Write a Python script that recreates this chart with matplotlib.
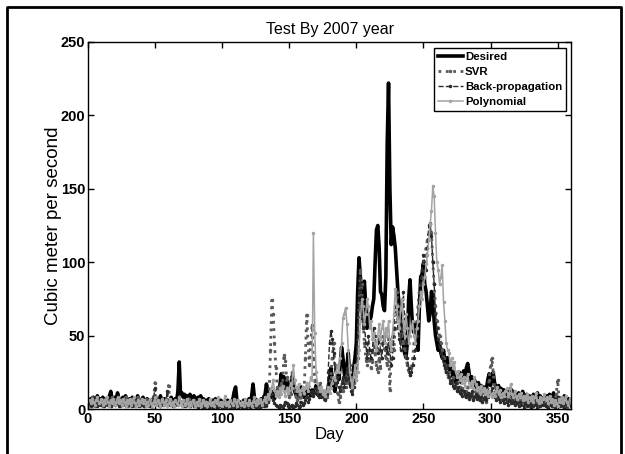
"""Redraw the 2007 test-year flow comparison chart."""

from __future__ import annotations

import matplotlib

matplotlib.use("Agg")

import matplotlib.pyplot as plt
import numpy as np
from matplotlib.lines import Line2D


# daily flow values, days 1..360, ten values per row
DESIRED = [
    5, 7, 4, 8, 6, 3, 9, 5, 7, 4,
    8, 6, 3, 7, 5, 9, 12, 6, 4, 8,
    5, 11, 7, 3, 6, 8, 4, 9, 5, 3,
    7, 5, 8, 4, 6, 3, 9, 5, 2, 6,
    8, 4, 3, 7, 5, 2, 6, 4, 8, 5,
    3, 6, 4, 9, 5, 3, 7, 4, 6, 5,
    3, 8, 5, 4, 7, 5, 12, 32, 9, 11,
    8, 10, 7, 9, 6, 10, 8, 5, 9, 7,
    4, 8, 6, 9, 5, 7, 3, 6, 4, 7,
    5, 3, 6, 4, 7, 2, 5, 3, 6, 4,
    2, 5, 3, 6, 4, 2, 5, 7, 12, 15,
    6, 3, 5, 4, 2, 6, 3, 5, 4, 7,
    3, 9, 17, 8, 4, 6, 5, 3, 7, 4,
    8, 10, 17, 12, 6, 9, 8, 12, 7, 10,
    13, 9, 16, 24, 18, 22, 14, 20, 16, 12,
    15, 22, 18, 12, 10, 14, 9, 12, 15, 11,
    8, 12, 10, 14, 11, 9, 13, 10, 12, 16,
    11, 9, 13, 8, 10, 12, 7, 9, 14, 20,
    28, 22, 15, 12, 18, 24, 20, 30, 42, 35,
    25, 18, 30, 38, 22, 15, 20, 28, 35, 45,
    80, 103, 90, 60, 75, 87, 70, 55, 65, 60,
    63, 70, 75, 100, 122, 125, 110, 80, 78, 70,
    67, 90, 180, 222, 150, 112, 124, 118, 110, 95,
    80, 70, 60, 50, 45, 38, 35, 45, 75, 88,
    70, 55, 52, 58, 55, 40, 70, 90, 92, 99,
    85, 80, 70, 60, 65, 80, 75, 60, 50, 45,
    40, 45, 38, 35, 40, 32, 28, 35, 30, 25,
    28, 22, 25, 18, 22, 20, 25, 18, 22, 26,
    20, 28, 31, 25, 18, 22, 15, 20, 17, 14,
    18, 12, 16, 13, 15, 11, 14, 20, 24, 16,
    22, 25, 18, 15, 12, 16, 10, 14, 11, 13,
    9, 12, 8, 11, 14, 9, 12, 7, 10, 8,
    11, 7, 9, 12, 6, 8, 10, 5, 9, 2,
    6, 10, 4, 8, 11, 5, 9, 7, 3, 8,
    6, 9, 5, 10, 4, 7, 11, 6, 3, 8,
    5, 7, 4, 6, 9, 3, 5, 7, 4, 6,
]

SVR = [
    3, 6, 8, 4, 2, 7, 5, 3, 6, 4,
    2, 5, 7, 3, 6, 4, 2, 8, 5, 3,
    6, 4, 7, 2, 5, 3, 6, 8, 4, 2,
    5, 7, 3, 6, 2, 4, 8, 5, 3, 6,
    4, 2, 7, 5, 3, 6, 2, 4, 9, 18,
    7, 3, 5, 2, 6, 4, 3, 7, 5, 16,
    6, 3, 5, 2, 4, 6, 3, 8, 5, 4,
    2, 6, 4, 3, 7, 2, 5, 3, 6, 4,
    2, 5, 3, 6, 2, 4, 1, 5, 3, 2,
    4, 1, 3, 5, 2, 4, 1, 3, 2, 5,
    3, 1, 4, 2, 5, 3, 1, 4, 2, 6,
    3, 1, 4, 2, 3, 5, 1, 3, 2, 4,
    1, 3, 5, 2, 4, 1, 3, 6, 2, 4,
    3, 5, 2, 8, 10, 40, 74, 65, 45, 28,
    15, 10, 12, 18, 15, 37, 33, 22, 12, 8,
    10, 25, 18, 12, 8, 6, 10, 5, 8, 12,
    10, 35, 64, 45, 30, 45, 57, 35, 20, 12,
    10, 14, 18, 12, 9, 7, 10, 8, 12, 15,
    22, 35, 45, 30, 18, 10, 5, 8, 15, 12,
    20, 15, 25, 18, 30, 22, 12, 18, 25, 20,
    35, 70, 95, 85, 60, 45, 35, 30, 40, 35,
    28, 32, 45, 38, 30, 25, 35, 28, 45, 50,
    40, 35, 30, 48, 13, 35, 50, 40, 55, 80,
    70, 60, 50, 55, 45, 40, 35, 30, 25, 23,
    28, 35, 45, 50, 60, 70, 80, 85, 90, 100,
    105, 110, 115, 120, 127, 120, 100, 85, 70, 60,
    55, 50, 45, 40, 35, 30, 25, 22, 25, 20,
    18, 22, 16, 14, 18, 12, 15, 10, 14, 12,
    9, 12, 15, 10, 8, 11, 7, 9, 12, 8,
    10, 6, 8, 11, 7, 9, 5, 12, 20, 30,
    35, 25, 15, 10, 8, 12, 7, 9, 6, 10,
    8, 5, 7, 10, 6, 8, 4, 7, 9, 5,
    7, 4, 8, 5, 3, 6, 8, 4, 2, 6,
    5, 3, 7, 4, 6, 2, 5, 3, 7, 4,
    2, 6, 4, 3, 5, 2, 4, 6, 10, 20,
    8, 4, 2, 6, 3, 5, 1, 4, 6, 3,
]

BACKPROP = [
    4, 2, 6, 3, 5, 7, 2, 4, 6, 3,
    5, 2, 4, 7, 3, 5, 2, 6, 4, 3,
    7, 4, 2, 5, 3, 6, 4, 2, 5, 7,
    3, 5, 2, 4, 6, 3, 5, 2, 4, 3,
    6, 2, 4, 3, 5, 2, 4, 6, 8, 14,
    5, 3, 6, 2, 4, 3, 5, 4, 12, 6,
    3, 5, 2, 4, 3, 6, 4, 9, 5, 3,
    4, 2, 5, 3, 4, 2, 5, 3, 2, 4,
    3, 1, 4, 2, 3, 1, 4, 2, 3, 1,
    2, 4, 1, 3, 2, 1, 3, 2, 4, 1,
    2, 3, 1, 2, 4, 1, 3, 2, 1, 3,
    2, 1, 3, 2, 1, 4, 2, 1, 3, 2,
    1, 3, 2, 4, 1, 2, 3, 1, 2, 3,
    2, 4, 3, 5, 8, 12, 10, 6, 4, 3,
    2, 1, 3, 2, 1, 3, 5, 4, 2, 1,
    2, 3, 1, 2, 4, 3, 1, 2, 5, 3,
    4, 6, 8, 5, 7, 10, 12, 9, 11, 14,
    10, 8, 12, 9, 11, 8, 6, 10, 25, 45,
    53, 48, 38, 28, 18, 22, 15, 12, 18, 22,
    15, 20, 28, 24, 18, 12, 10, 15, 22, 30,
    50, 80, 90, 75, 55, 60, 45, 35, 50, 40,
    35, 40, 55, 50, 42, 38, 48, 40, 35, 45,
    50, 42, 38, 45, 40, 30, 35, 55, 70, 65,
    55, 48, 40, 60, 80, 60, 45, 35, 28, 23,
    25, 30, 35, 40, 50, 60, 75, 85, 95, 105,
    100, 95, 110, 125, 126, 118, 100, 85, 65, 55,
    48, 42, 38, 35, 30, 28, 25, 30, 22, 18,
    20, 16, 14, 18, 12, 15, 11, 13, 9, 12,
    10, 8, 11, 7, 9, 12, 6, 8, 10, 7,
    9, 6, 8, 5, 7, 9, 6, 8, 10, 12,
    14, 10, 8, 6, 9, 7, 5, 8, 6, 4,
    7, 5, 3, 6, 4, 8, 5, 3, 6, 4,
    2, 5, 3, 6, 1, 4, 2, 5, 3, 1,
    4, 2, 6, 3, 1, 5, 2, 4, 3, 6,
    2, 4, 1, 5, 3, 2, 4, 1, 3, 8,
    4, 2, 5, 3, 1, 4, 2, 5, 3, 2,
]

POLYNOMIAL = [
    6, 4, 7, 5, 3, 6, 8, 4, 5, 7,
    3, 6, 4, 8, 5, 2, 6, 4, 7, 3,
    5, 8, 4, 6, 3, 7, 5, 2, 6, 4,
    7, 3, 5, 8, 4, 2, 6, 3, 5, 7,
    4, 6, 2, 5, 3, 7, 4, 1, 5, 8,
    3, 6, 4, 2, 7, 5, 3, 6, 2, 4,
    7, 3, 5, 2, 6, 4, 3, 8, 5, 2,
    6, 3, 4, 7, 2, 5, 3, 6, 4, 2,
    5, 3, 7, 2, 4, 6, 3, 5, 2, 4,
    7, 3, 5, 2, 6, 4, 8, 3, 5, 2,
    4, 9, 3, 5, 2, 6, 4, 3, 7, 5,
    2, 6, 4, 3, 5, 2, 7, 4, 3, 6,
    4, 2, 5, 8, 3, 6, 4, 7, 5, 3,
    6, 8, 5, 10, 7, 12, 15, 20, 13, 9,
    12, 8, 14, 10, 16, 12, 9, 14, 11, 13,
    18, 14, 30, 20, 15, 12, 17, 10, 13, 15,
    11, 14, 18, 12, 16, 22, 20, 120, 52, 25,
    18, 14, 12, 15, 10, 13, 9, 12, 15, 11,
    14, 18, 22, 20, 25, 30, 25, 35, 45, 62,
    65, 69, 58, 40, 25, 20, 15, 22, 30, 20,
    25, 40, 60, 75, 70, 58, 65, 75, 70, 55,
    60, 48, 52, 45, 40, 50, 58, 48, 55, 60,
    45, 55, 50, 60, 45, 40, 52, 65, 82, 70,
    60, 55, 68, 75, 60, 50, 65, 55, 45, 50,
    55, 60, 50, 45, 55, 60, 70, 80, 75, 85,
    90, 99, 105, 115, 126, 135, 152, 145, 120, 100,
    95, 85, 90, 98, 73, 60, 45, 40, 38, 30,
    35, 28, 32, 25, 22, 26, 20, 24, 18, 22,
    16, 20, 24, 18, 15, 19, 14, 22, 17, 13,
    15, 11, 16, 12, 14, 10, 13, 9, 12, 10,
    8, 11, 9, 12, 15, 10, 13, 8, 11, 9,
    12, 14, 9, 11, 17, 10, 8, 12, 9, 7,
    10, 8, 11, 6, 9, 7, 10, 5, 8, 6,
    9, 5, 8, 11, 6, 4, 8, 5, 7, 10,
    6, 8, 4, 9, 5, 7, 3, 6, 4, 2,
    7, 5, 8, 4, 6, 9, 5, 3, 7, 5,
]

SERIES_LABELS = ["Desired", "SVR", "Back-propagation", "Polynomial"]
X_TICKS = [0, 50, 100, 150, 200, 250, 300, 350]
Y_TICKS = [0, 50, 100, 150, 200, 250]

TICK_FONT = ["Liberation Sans Narrow", "Liberation Sans", "DejaVu Sans"]
TEXT_FONT = ["Liberation Sans", "DejaVu Sans"]


def draw_series(ax) -> None:
    styles = [
        dict(color="black", linewidth=2.6, linestyle="-"),
        dict(color="#5a5a5a", linewidth=2.0, linestyle=":", marker=".", markersize=3),
        dict(color="#2a2a2a", linewidth=1.0, linestyle="--", marker=".", markersize=3),
        dict(color="#a3a3a3", linewidth=1.1, linestyle="-", marker=".", markersize=3),
    ]
    for values, label, style in zip(
        [DESIRED, SVR, BACKPROP, POLYNOMIAL], SERIES_LABELS, styles
    ):
        days = np.arange(1, len(values) + 1)
        ax.plot(days, values, label=label, **style)


def main() -> None:
    fig = plt.figure(figsize=(6.25, 4.54), dpi=100)
    ax = fig.add_axes([0.1408, 0.0991, 0.7728, 0.8085])

    draw_series(ax)

    ax.set_xlim(0, 360)
    ax.set_ylim(0, 250)
    ax.set_xticks(X_TICKS)
    ax.set_yticks(Y_TICKS)
    ax.tick_params(direction="in", top=True, right=True, length=4, width=1, pad=2)
    for label in ax.get_xticklabels() + ax.get_yticklabels():
        label.set_family(TICK_FONT)
        label.set_fontweight("bold")
        label.set_fontsize(10.5)
    for spine in ax.spines.values():
        spine.set_linewidth(1.0)

    ax.set_title("Test By 2007 year", family=TEXT_FONT, fontsize=11.5, pad=6)
    ax.set_xlabel("Day", family=TEXT_FONT, fontsize=12, labelpad=1)
    ax.set_ylabel("Cubic meter per second", family=TEXT_FONT, fontsize=13.5, labelpad=-1)

    legend = ax.legend(
        loc="upper right",
        bbox_to_anchor=(0.99, 0.983),
        fancybox=False,
        framealpha=1,
        edgecolor="black",
        borderpad=0.35,
        labelspacing=0.42,
        handlelength=2.2,
        handletextpad=0.2,
        borderaxespad=0,
        prop={"family": TICK_FONT, "weight": "bold", "size": 8.2},
    )
    legend.get_frame().set_linewidth(1.0)

    # outer frame round the figure, bottom edge falls off the canvas
    frame_x = [7 / 625, 7 / 625, 621 / 625, 621 / 625]
    frame_y = [-0.05, 1 - 7 / 454, 1 - 7 / 454, -0.05]
    fig.add_artist(
        Line2D(frame_x, frame_y, transform=fig.transFigure, color="black", linewidth=2.0)
    )

    fig.savefig("out.png", dpi=100)
    plt.close(fig)


if __name__ == "__main__":
    main()
